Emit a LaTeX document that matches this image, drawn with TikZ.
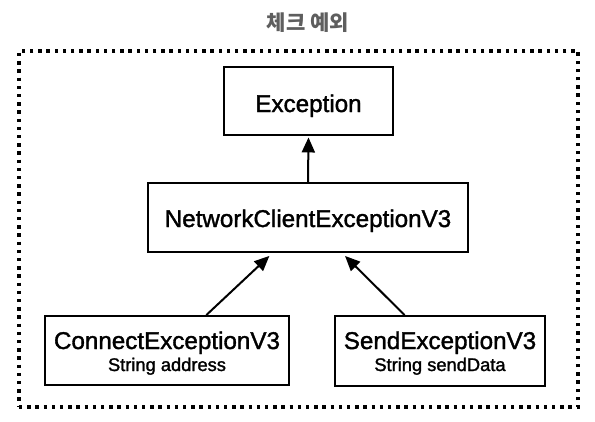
\documentclass[tikz,border=0pt]{standalone}
\usepackage{fontspec}
\newfontfamily\bodyfont{Liberation Sans}[FakeBold=1.5]
\newfontfamily\krfont{Noto Sans CJK KR}
\usetikzlibrary{arrows.meta,calc}
\definecolor{titlegray}{HTML}{5E5E5E}
\begin{document}
\begin{tikzpicture}[x=1pt,y=-1pt,
  box/.style={draw=black, line width=1.9pt, inner sep=0pt},
  big/.style={font=\bodyfont\fontsize{24.2}{28}\selectfont, anchor=base, inner sep=0pt},
  small/.style={font=\bodyfont\fontsize{18.3}{22}\selectfont, anchor=base, inner sep=0pt},
  arr/.style={line width=2pt, -{Triangle[length=15pt,width=13pt]}},
  frame/.style={draw=black, line width=3.4pt, dash pattern=on 3.4pt off 4.8pt}]
\useasboundingbox (0,0) rectangle (595,421);
\node[font=\krfont\bfseries\fontsize{21}{24}\selectfont, text=titlegray] (title) at (308,23) {체크 예외};
\node[frame, minimum width=559pt, minimum height=356pt, inner sep=0pt] (border) at (298.5,229) {};
\node[box, minimum width=169pt, minimum height=68pt] (exc) at (308.5,101) {};
\node[big] (excT) at (308.5,112) {Exception};
\node[box, minimum width=320pt, minimum height=69pt] (nc) at (308,217.5) {};
\node[big] (ncT) at (308,227) {NetworkClientExceptionV3};
\node[box, minimum width=244pt, minimum height=69pt] (conn) at (167,350.5) {};
\node[big] (connT) at (167,349) {ConnectExceptionV3};
\node[small] (connS) at (167,371) {String address};
\node[box, minimum width=210pt, minimum height=70pt] (send) at (440,351) {};
\node[big] (sendT) at (440,349) {SendExceptionV3};
\node[small] (sendS) at (440,371) {String sendData};
\coordinate (ncTop) at (nc.north);
\coordinate (excTip) at ($(exc.south)+(0,1.5)$);
\draw[arr] (ncTop) -- (excTip);
\coordinate (connA) at ($(conn.north west)!0.66!(conn.north east)$);
\coordinate (ncL) at ($(nc.south west)!0.38!(nc.south east)+(0,3)$);
\draw[arr] (connA) -- (ncL);
\coordinate (sendA) at ($(send.north west)!0.333!(send.north east)$);
\coordinate (ncR) at ($(nc.south west)!0.615!(nc.south east)+(0,3)$);
\draw[arr] (sendA) -- (ncR);
\end{tikzpicture}
\end{document}
